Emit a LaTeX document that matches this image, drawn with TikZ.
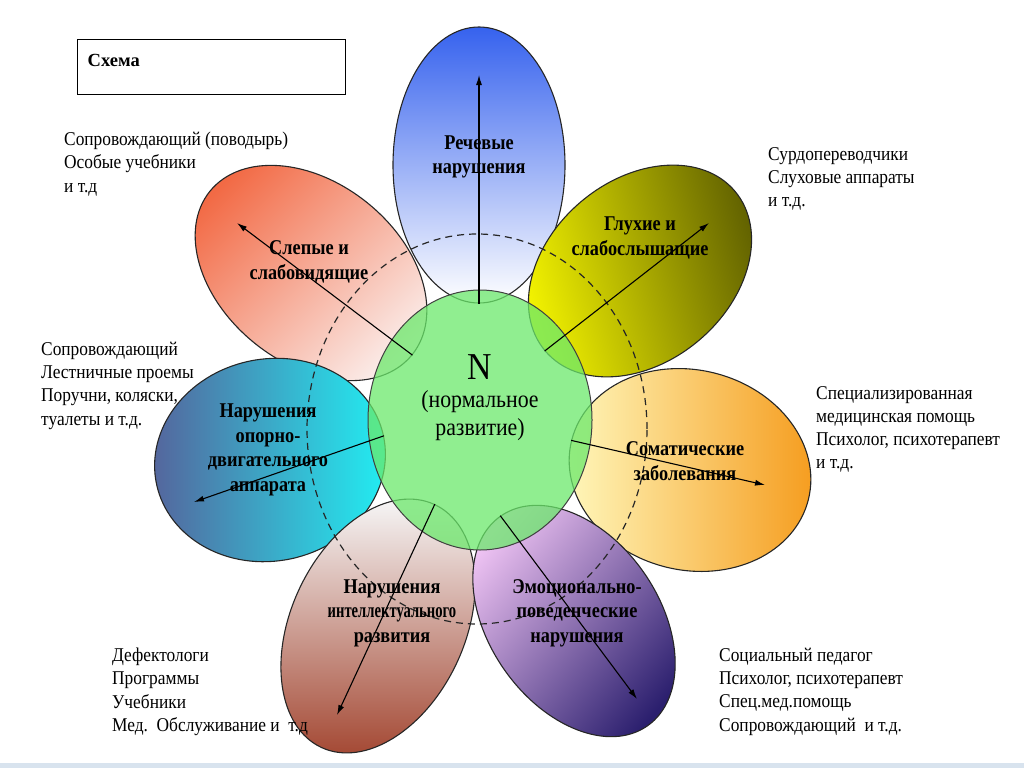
\documentclass[tikz,border=0pt]{standalone}
\usepackage{fontspec}
\setmainfont{Liberation Serif}
\newfontfamily\notefont[FakeStretch=0.89]{Liberation Serif}
\newfontfamily\tagfont[FakeStretch=0.87]{Liberation Serif}
\usetikzlibrary{shapes.geometric,arrows.meta,positioning}

\definecolor{speechblue}{HTML}{3662EE}
\definecolor{blindred}{HTML}{F26A45}
\definecolor{blindpale}{HTML}{FBF0EE}
\definecolor{deafolive}{HTML}{5E5E00}
\definecolor{deafyellow}{HTML}{F8F800}
\definecolor{motorslate}{HTML}{56619A}
\definecolor{motorcyan}{HTML}{20F2F5}
\definecolor{somaorange}{HTML}{F59A1A}
\definecolor{somapale}{HTML}{FFFAC0}
\definecolor{emonavy}{HTML}{2B1F6E}
\definecolor{emopurple}{HTML}{9A78D8}
\definecolor{emopink}{HTML}{F0C4F4}
\definecolor{intrust}{HTML}{A0402A}
\definecolor{intwhite}{HTML}{F4F2F2}
\definecolor{normgreen}{HTML}{6BE86B}
\definecolor{barblue}{HTML}{D8E3EE}

\tikzset{
    petal/.style ={
        shape=ellipse,
        draw=black!85,
        line width=1.1pt,
        inner sep=0pt
    },
    norm/.style ={
        shape=ellipse,
        draw=black!75,
        line width=1pt,
        fill=normgreen,
        fill opacity=0.75,
        inner sep=0pt,
        minimum width=224pt,
        minimum height=260pt
    },
    ring/.style ={
        shape=ellipse,
        draw=black!85,
        line width=1.2pt,
        dash pattern=on 7pt off 5pt,
        inner sep=0pt,
        minimum width=340pt,
        minimum height=390pt
    },
    tag/.style ={
        align=center,
        inner sep=0pt,
        text=black,
        font=\tagfont\fontsize{21}{24.5}\selectfont\bfseries
    },
    note/.style ={
        align=left,
        anchor=north west,
        inner sep=0pt,
        font=\notefont\fontsize{19.5}{23.2}\selectfont
    },
    flow/.style ={
        -{Latex[length=10pt,width=6pt]},
        line width=1.1pt
    }
}

\begin{document}
\begin{tikzpicture}[x=1pt,y=-1pt]
    \useasboundingbox (0,0) rectangle (1024,768);
    \fill[barblue] (0,763) rectangle (1024,768);

    % title frame
    \node[draw, line width=1pt, minimum width=268pt, minimum height=55pt, inner sep=0pt] (frame) at (211,67) {};
    \node[below right=15pt and 11pt of frame.north west, inner sep=0pt, font=\fontsize{18.5}{20}\selectfont\bfseries] (title) {Схема};

    % petals
    \node[petal, minimum width=276pt, minimum height=172pt, rotate=90,
          top color=speechblue, bottom color=white, shading angle=0] (speech) at (479,165) {};
    \node[petal, minimum width=260pt, minimum height=180pt, rotate=141,
          top color=blindred, bottom color=blindpale, shading angle=45] (blind) at (311,273) {};
    \node[petal, minimum width=248pt, minimum height=182pt, rotate=40,
          top color=deafolive, bottom color=deafyellow, shading angle=-75] (deaf) at (640,271) {};
    \node[petal, minimum width=232pt, minimum height=202pt, rotate=192,
          top color=motorslate, bottom color=motorcyan, shading angle=90] (motor) at (270,460) {};
    \node[petal, minimum width=244pt, minimum height=200pt, rotate=-14,
          top color=somaorange, bottom color=somapale, shading angle=-90] (soma) at (690,470) {};
    \node[petal, minimum width=268pt, minimum height=174pt, rotate=245,
          top color=intrust, bottom color=intwhite, shading angle=180] (intel) at (378,626) {};
    \node[petal, minimum width=256pt, minimum height=170pt, rotate=-55,
          top color=emonavy, middle color=emopurple, bottom color=emopink, shading angle=-130] (emo) at (574,621) {};

    % centre
    \node[norm] (norm) at (480,420) {};
    \node[ring] (ring) at (477,429) {};

    % labels
    \node[align=center, inner sep=0pt, font=\notefont\fontsize{24.5}{28}\selectfont] (normtext) at (480,398)
        {{\fontsize{38}{36}\selectfont N}\\(нормальное\\развитие)};
    \node[tag] (speechtext) at (479,157) {Речевые\\нарушения};
    \node[tag] (blindtext) at (309,262) {Слепые и\\слабовидящие};
    \node[tag] (deaftext) at (640,238) {Глухие и\\слабослышащие};
    \node[tag] (motortext) at (268,450) {Нарушения\\опорно-\\двигательного\\аппарата};
    \node[tag] (somatext) at (685,461) {Соматические\\заболевания};
    \node[tag] (emotext) at (577,613) {Эмоционально-\\поведенческие\\нарушения};
    \node[tag] (inteltext) at (392,613) {Нарушения\\\scalebox{0.8}[1]{интеллектуального}\\развития};

    % arrows
    \coordinate (speechtip) at (479,75);
    \coordinate (blindtip) at (237,223);
    \coordinate (deaftip) at (709,223);
    \coordinate (motortip) at (194,502);
    \coordinate (somatip) at (765,485);
    \coordinate (emotip) at (637,699);
    \coordinate (inteltip) at (337,715);
    \draw[flow] (speech.west) -- (speechtip);
    \draw[flow] (blind.west) -- (blindtip);
    \draw[flow] (deaf.west) -- (deaftip);
    \draw[flow] (motor.west) -- (motortip);
    \draw[flow] (soma.west) -- (somatip);
    \draw[flow] (emo.west) -- (emotip);
    \draw[flow] (intel.west) -- (inteltip);

    % notes
    \node[note] (guide) at (64,132) {Сопровождающий (поводырь)\\Особые учебники\\и т.д};
    \node[note] (access) at (41,342) {Сопровождающий\\Лестничные проемы\\Поручни, коляски,\\туалеты и т.д.};
    \node[note] (teach) at (112,648) {Дефектологи\\Программы\\Учебники\\Мед.\ \ Обслуживание и\ \ т.д};
    \node[note] (interp) at (768,147) {Сурдопереводчики\\Слуховые аппараты\\и т.д.};
    \node[note] (medic) at (816,386) {Специализированная\\медицинская помощь\\Психолог, психотерапевт\\и т.д.};
    \node[note] (social) at (719,648) {Социальный педагог\\Психолог, психотерапевт\\Спец.мед.помощь\\Сопровождающий\ \ и т.д.};
\end{tikzpicture}
\end{document}
